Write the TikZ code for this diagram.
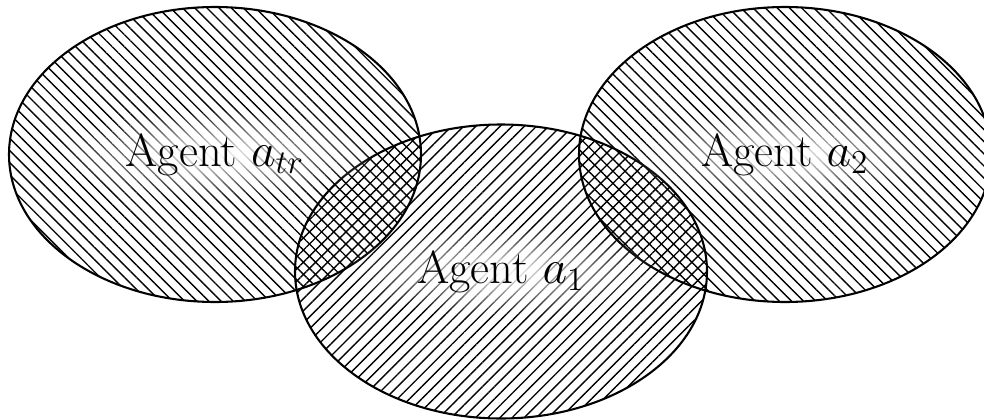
\documentclass[tikz,border=0pt]{standalone}
\usetikzlibrary{patterns.meta,fadings}
\tikzfading[name=glowfade, inner color=transparent!0, outer color=transparent!100]
\begin{document}
\begin{tikzpicture}[x=0.0127cm,y=-0.0127cm,
  outline/.style={draw=black, line width=0.75pt},
  nwset/.style={pattern={Lines[angle=-45, distance=3.1pt, line width=0.5pt]}},
  neset/.style={pattern={Lines[angle=45, distance=3.1pt, line width=0.5pt]}},
  agentlabel/.style={fill=white, path fading=glowfade, inner xsep=26pt, inner ysep=9pt,
    font=\fontsize{16.8}{19}\selectfont}]
\useasboundingbox (0,0) rectangle (984,420);
\clip (0,0) rectangle (984,420);
\coordinate (cl) at (215,154.5);
\coordinate (cm) at (501,271.5);
\coordinate (cr) at (785,154.5);
\path[nwset] (cl) ellipse [x radius=206, y radius=147.5];
\path[neset] (cm) ellipse [x radius=206, y radius=147];
\path[nwset] (cr) ellipse [x radius=206, y radius=147.5];
\path[outline] (cl) ellipse [x radius=206, y radius=147.5];
\path[outline] (cm) ellipse [x radius=206, y radius=147];
\path[outline] (cr) ellipse [x radius=206, y radius=147.5];
\node[agentlabel] (atr) at (cl) {Agent $a_{tr}$};
\node[agentlabel] (a1) at (cm) {Agent $a_1$};
\node[agentlabel] (a2) at (cr) {Agent $a_2$};
\end{tikzpicture}
\end{document}
